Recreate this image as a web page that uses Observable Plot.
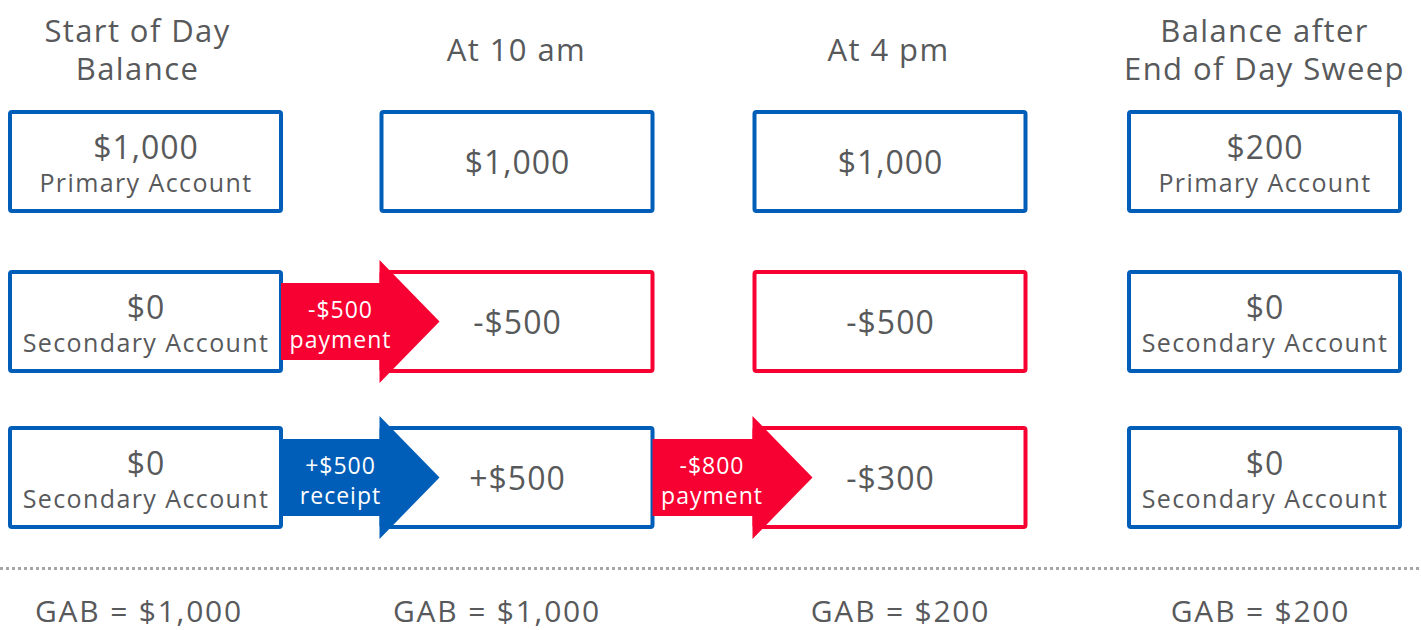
<!DOCTYPE html>
<html><head><meta charset="utf-8">
<script src="https://cdn.jsdelivr.net/npm/d3@7"></script>
<script src="https://cdn.jsdelivr.net/npm/@observablehq/plot@0.6"></script>
<style>body{margin:0;background:#fff;overflow:hidden}</style>
</head><body><div id="chart"></div>
<script>
// ---- data ----
const stages = ["Start of Day\nBalance", "At 10 am", "At 4 pm", "Balance after\nEnd of Day Sweep"];
const accounts = ["Primary Account", "Secondary Account", "Secondary Account"];
const startBalances = ["$1,000", "$0", "$0"];
const at10amBalances = ["$1,000", "-$500", "+$500"];
const at4pmBalances = ["$1,000", "-$500", "-$300"];
const afterSweepBalances = ["$200", "$0", "$0"];
const showAccountName = [true, false, false, true];
const transferLabels = ["-$500\npayment", "+$500\nreceipt", "-$800\npayment"];
const transferFromStage = [0, 0, 1];
const transferRow = [1, 2, 2];
const transferKind = ["payment", "receipt", "payment"];
const gabLabels = ["GAB = $1,000", "GAB = $1,000", "GAB = $200", "GAB = $200"];

// ---- layout & style ----
const W = 1421, H = 630;
const BLUE = "#005eb8", RED = "#f70032", GRAY = "#58595b", FONT = "'Open Sans', sans-serif";
const colCenter = [145.5, 517, 890, 1264.5];
const headerCenter = [137, 516, 888, 1264];
const gabCenter = [138.5, 496.5, 900, 1260];
const rowCenter = [161.5, 321.5, 477.5];
const halfW = 135.5, halfH = 49.5;
const balancesByStage = [startBalances, at10amBalances, at4pmBalances, afterSweepBalances];

const boxes = [];
balancesByStage.forEach((vals, c) => vals.forEach((v, r) => {
  boxes.push({c, r, value: v, account: accounts[r], named: showAccountName[c],
    color: v.startsWith("-") ? RED : BLUE});
}));

const arrowPts = [];
const arrowLbls = [];
transferLabels.forEach((lbl, i) => {
  const c = transferFromStage[i], r = transferRow[i];
  const x0 = colCenter[c] + halfW, dl = colCenter[c + 1] - halfW;
  const xb = dl - 2, xt = dl + 58, cy = rowCenter[r];
  const color = transferKind[i] === "payment" ? RED : BLUE;
  arrowPts.push(
    {id: i, x: x0, y1: cy - 38.5, y2: cy + 38.5, color},
    {id: i, x: xb, y1: cy - 38.5, y2: cy + 38.5, color},
    {id: i, x: xb, y1: cy - 61.5, y2: cy + 61.5, color},
    {id: i, x: xt, y1: cy, y2: cy, color}
  );
  arrowLbls.push({x: x0 + 59, y: cy + 1, text: lbl});
});

const spacing = []; // letter-spacing per text mark, applied after render
function txt(data, opts, ls) {
  const m = Plot.text(data, opts);
  spacing.push(ls);
  return m;
}

const chart = Plot.plot({
  width: W, height: H,
  margin: 0,
  x: {type: "linear", domain: [0, W], range: [0, W], axis: null},
  y: {type: "linear", domain: [0, H], range: [0, H], axis: null},
  color: {type: "identity"},
  style: {background: "#fff", fontFamily: FONT},
  marks: [
    // headers
    txt(stages, {x: (d, i) => headerCenter[i], y: 48, text: d => d, fontSize: 31, lineHeight: 1.23, fill: GRAY, fontFamily: FONT}, 1.4),
    // boxes
    Plot.rect(boxes, {x1: d => colCenter[d.c] - halfW, x2: d => colCenter[d.c] + halfW,
      y1: d => rowCenter[d.r] - halfH, y2: d => rowCenter[d.r] + halfH,
      fill: "#fff", stroke: "color", strokeWidth: 4, rx: 2}),
    // values
    txt(boxes, {x: d => colCenter[d.c], y: d => rowCenter[d.r] + (d.named ? -13 : 2),
      text: "value", fontSize: 32, fill: GRAY, fontFamily: FONT}, 1),
    txt(boxes.filter(d => d.named), {x: d => colCenter[d.c], y: d => rowCenter[d.r] + 22,
      text: "account", fontSize: 25, fill: GRAY, fontFamily: FONT}, 1.4),
    // arrows
    Plot.areaY(arrowPts, {x: "x", y1: "y1", y2: "y2", z: "id", fill: "color", curve: "linear"}),
    txt(arrowLbls, {x: "x", y: "y", text: "text", fontSize: 23, lineHeight: 1.3, fill: "#fff", fontFamily: FONT}, 1),
    // dotted separator
    Plot.ruleY([568], {x1: 0, x2: W, stroke: "#a6a6a6", strokeWidth: 3, strokeDasharray: "3,3"}),
    // GAB
    txt(gabLabels, {x: (d, i) => gabCenter[i], y: 612, text: d => d, fontSize: 30, fill: GRAY, fontFamily: FONT}, 1.8)
  ]
});
chart.querySelectorAll('g[aria-label="text"]').forEach((g, i) => {
  if (spacing[i] != null) g.style.letterSpacing = spacing[i] + "px";
});
document.getElementById("chart").appendChild(chart);
</script>
</body></html>
